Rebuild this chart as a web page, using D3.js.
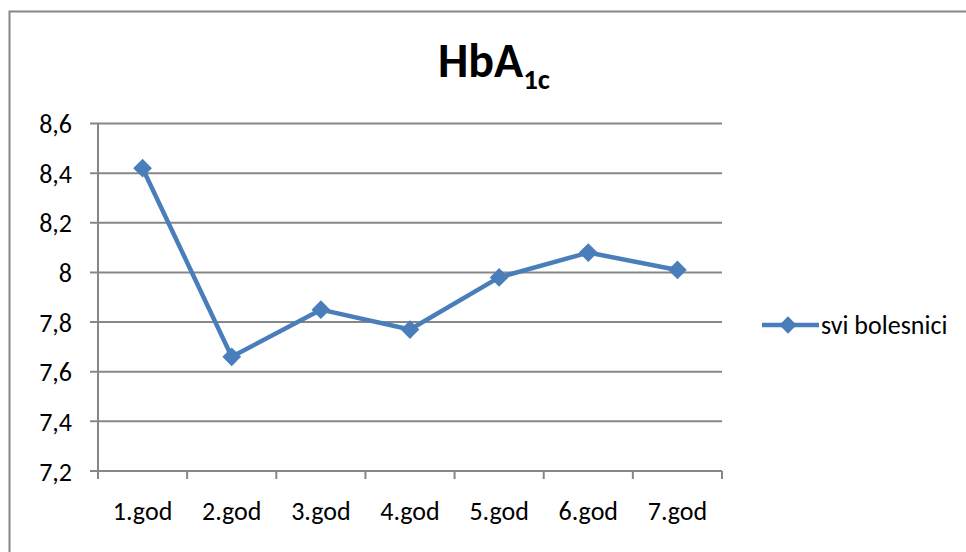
<!DOCTYPE html>
<html>
<head>
<meta charset="utf-8">
<script src="https://cdn.jsdelivr.net/npm/d3@7"></script>
<style>
  body { margin: 0; background: #fff; }
  text { font-family: Carlito, Calibri, Lato, sans-serif; fill: #000; }
</style>
</head>
<body>
<div id="chart-area"></div>
<script>
// data
var categories = ["1.god", "2.god", "3.god", "4.god", "5.god", "6.god", "7.god"];
var values = [8.42, 7.66, 7.85, 7.77, 7.98, 8.08, 8.01];
var yTicks = [7.2, 7.4, 7.6, 7.8, 8, 8.2, 8.4, 8.6];
var seriesName = "svi bolesnici";

var width = 966, height = 552;
var plot = { left: 98, right: 722, top: 123.5, bottom: 471 };
var blue = "#4a7ebb", grey = "#878787";

var svg = d3.select("#chart-area").append("svg")
    .attr("width", width)
    .attr("height", height);

// outer frame (only top and left edges are visible)
svg.append("path")
    .attr("d", "M9.5," + height + "V11.5H" + width)
    .attr("fill", "none")
    .attr("stroke", grey)
    .attr("stroke-width", 2);

var x = d3.scaleBand()
    .domain(categories)
    .range([plot.left, plot.right]);

var y = d3.scaleLinear()
    .domain([7.2, 8.6])
    .range([plot.bottom, plot.top]);

// gridlines
svg.append("g")
    .selectAll("line")
    .data(yTicks)
    .enter()
    .append("line")
        .attr("x1", plot.left - 8)
        .attr("x2", plot.right)
        .attr("y1", d => y(d))
        .attr("y2", d => y(d))
        .attr("stroke", grey)
        .attr("stroke-width", 2);

// y axis
var yAxis = d3.axisLeft(y)
    .tickValues(yTicks)
    .tickSize(0)
    .tickPadding(26)
    .tickFormat(d => String(d).replace(".", ","));

svg.append("g")
    .attr("transform", "translate(" + plot.left + ",0)")
    .call(yAxis)
    .call(g => g.select(".domain").remove())
    .selectAll("text")
        .style("font-size", "26px")
        .attr("dy", "0.35em");

svg.append("line")
    .attr("x1", plot.left).attr("x2", plot.left)
    .attr("y1", plot.top).attr("y2", plot.bottom)
    .attr("stroke", grey).attr("stroke-width", 2);

// x axis: labels centred in bands, ticks on band boundaries
var xAxis = d3.axisBottom(x)
    .tickSize(0)
    .tickPadding(31);

svg.append("g")
    .attr("transform", "translate(0," + plot.bottom + ")")
    .call(xAxis)
    .call(g => g.select(".domain").remove())
    .selectAll("text")
        .style("font-size", "26px");

var bounds = categories.map(c => x(c)).concat([x.range()[1]]);
svg.append("g")
    .selectAll("line")
    .data(bounds)
    .enter()
    .append("line")
        .attr("x1", d => d).attr("x2", d => d)
        .attr("y1", plot.bottom).attr("y2", plot.bottom + 8)
        .attr("stroke", grey).attr("stroke-width", 2);

svg.append("line")
    .attr("x1", plot.left).attr("x2", plot.right)
    .attr("y1", plot.bottom).attr("y2", plot.bottom)
    .attr("stroke", grey).attr("stroke-width", 2);

// series line
var line = d3.line()
    .x((d, i) => x(categories[i]) + x.bandwidth() / 2)
    .y(d => y(d));

svg.append("path")
    .datum(values)
    .attr("d", line)
    .attr("fill", "none")
    .attr("stroke", blue)
    .attr("stroke-width", 4.5)
    .attr("stroke-linejoin", "round");

var diamond = d3.symbol().type(d3.symbolSquare).size(150);

svg.append("g")
    .selectAll("path")
    .data(values)
    .enter()
    .append("path")
        .attr("d", diamond)
        .attr("transform", (d, i) => "translate(" + (x(categories[i]) + x.bandwidth() / 2) + "," + y(d) + ") rotate(45)")
        .attr("fill", blue)
        .attr("stroke", blue)
        .attr("stroke-width", 1);

// title
var title = svg.append("text")
    .attr("x", 494)
    .attr("y", 77)
    .attr("text-anchor", "middle")
    .style("font-size", "48px")
    .style("font-weight", "bold");
title.append("tspan").text("HbA");
title.append("tspan")
    .attr("dy", 12)
    .style("font-size", "29px")
    .text("1c");

// legend
var legend = svg.append("g")
    .attr("transform", "translate(762,325)");
legend.append("line")
    .attr("x1", 0).attr("x2", 57)
    .attr("stroke", blue).attr("stroke-width", 4.5);
legend.append("path")
    .attr("d", diamond)
    .attr("transform", "translate(26,0) rotate(45)")
    .attr("fill", blue);
legend.append("text")
    .attr("x", 59)
    .attr("dy", "0.35em")
    .style("font-size", "26px")
    .text(seriesName);
</script>
</body>
</html>
